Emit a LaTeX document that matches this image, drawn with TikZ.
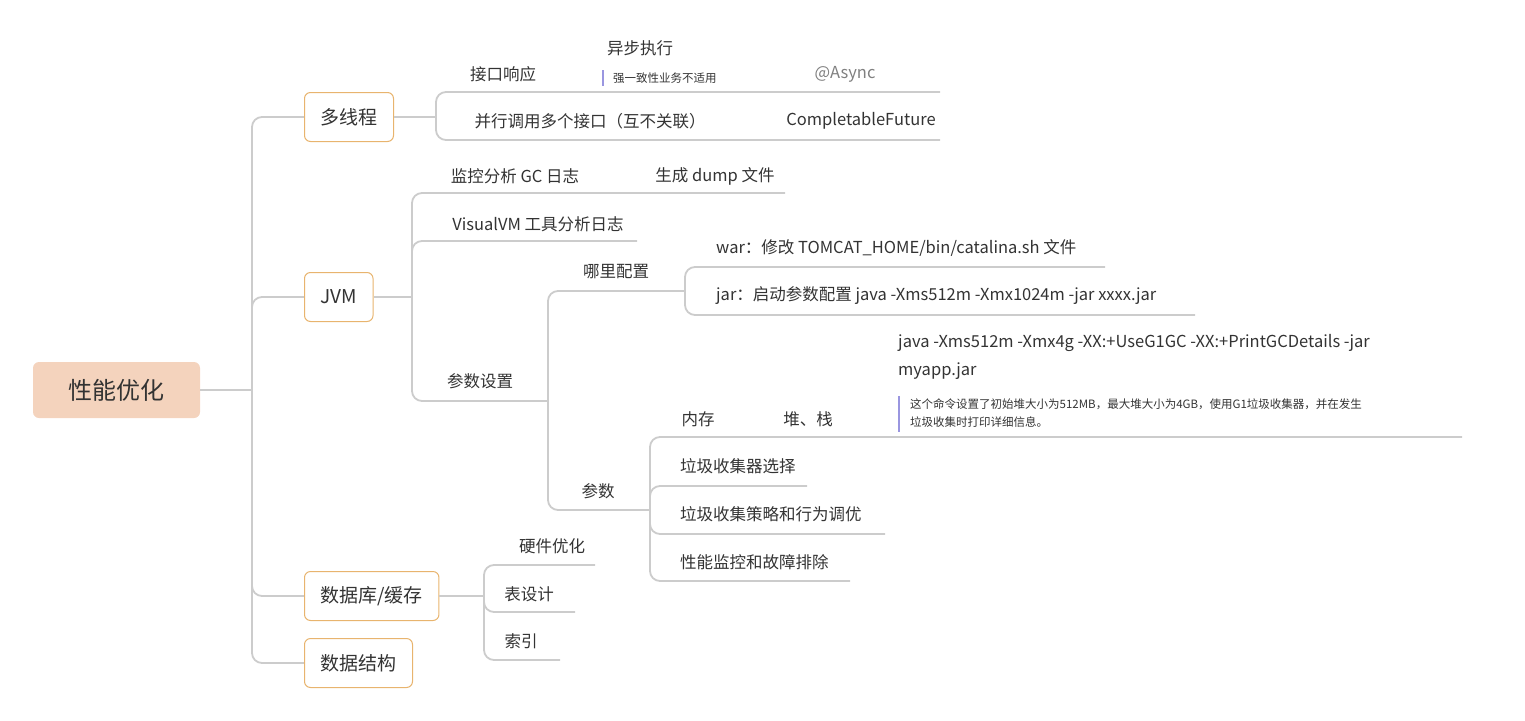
\documentclass[tikz,border=0pt]{standalone}
\usepackage{fontspec}
\setmainfont{Noto Sans CJK SC}
\definecolor{linkgray}{HTML}{CCCCCC}
\definecolor{txtgray}{HTML}{333333}
\definecolor{boxorange}{HTML}{E8B46E}
\definecolor{rootfill}{HTML}{F4D3BD}
\definecolor{notebar}{HTML}{9A96E0}
\tikzset{
  link/.style={draw=linkgray, line width=1.8pt, rounded corners=10pt},
  topic/.style={draw=boxorange, line width=1pt, fill=white, rounded corners=6pt, text=txtgray, font=\fontsize{19}{22}\selectfont, anchor=west, minimum height=49pt, inner xsep=16pt},
  leaf/.style={text=txtgray, font=\fontsize{16.5}{20}\selectfont, inner sep=0pt},
  note/.style={text=txtgray, font=\fontsize{11.5}{18}\selectfont, inner sep=0pt, anchor=west, align=left},
}
\begin{document}
\begin{tikzpicture}[x=1pt, y=-1pt]
  \useasboundingbox (0,0) rectangle (1525,720);
  % root and first level
  \node[fill=rootfill, rounded corners=6pt, minimum width=167pt, minimum height=56pt,
        text=txtgray, font=\fontsize{24}{28}\selectfont] (root) at (116.5,390) {性能优化};
  \coordinate (trunk) at (252,390);
  \draw[link] (root.east) -- (trunk);
  \foreach \y/\nm in {117/mt, 297/jvm, 596/db, 663/ds}
    \draw[link] (trunk) |- (304,\y);
  \node[topic] (mt) at (304,117) {多线程};
  \node[topic] (jvm) at (304,297) {JVM};
  \node[topic] (db) at (304,596) {数据库/缓存};
  \node[topic] (ds) at (304,663) {数据结构};

  % 多线程
  \coordinate (mtj) at (436,117);
  \draw[link] (mt.east) -- (mtj);
  \draw[link] (mtj) |- (940,92);
  \draw[link] (mtj) |- (940,140);
  \node[leaf] (resp) at (503,74) {接口响应};
  \node[leaf] (async) at (640,48) {异步执行};
  \draw[notebar, line width=2pt] (603,70) -- (603,86);
  \node[note] (asyncnote) at (613,78) {强一致性业务不适用};
  \node[leaf, text=gray] (anno) at (845,74) {@Async};
  \node[leaf] (par) at (590,121) {并行调用多个接口（互不关联）};
  \node[leaf] (cf) at (861,121) {CompletableFuture};

  % JVM
  \coordinate (jvmj) at (412,297);
  \draw[link] (jvm.east) -- (jvmj);
  \draw[link] (jvmj) |- (785,193);
  \draw[link] (jvmj) |- (637,241);
  \draw[link] (jvmj) |- (548,401);
  \node[leaf] (gclog) at (515,176) {监控分析 GC 日志};
  \node[leaf] (dump) at (715,176) {生成 dump 文件};
  \node[leaf] (vvm) at (538,224) {VisualVM 工具分析日志};
  \node[leaf] (args) at (480,381) {参数设置};

  \coordinate (argsj) at (548,401);
  \draw[link] (argsj) |- (685,291);
  \draw[link] (argsj) |- (622,510);
  \node[leaf] (where) at (616,272) {哪里配置};
  \node[leaf] (params) at (598,491) {参数};

  \coordinate (wherej) at (685,291);
  \draw[link] (wherej) |- (1105,267);
  \draw[link] (wherej) |- (1195,315);
  \node[leaf, anchor=west] (war) at (716,248) {war：修改 TOMCAT\_HOME/bin/catalina.sh 文件};
  \node[leaf, anchor=west] (jar) at (716,296) {jar：启动参数配置 java -Xms512m -Xmx1024m -jar xxxx.jar};

  \coordinate (paramsj) at (622,510);
  \coordinate (pj) at (650,510);
  \draw[link] (paramsj) -- (pj);
  \draw[link] (pj) |- (1462,437);
  \draw[link] (pj) |- (807,486);
  \draw[link] (pj) |- (885,534);
  \draw[link] (pj) |- (850,581);
  \node[leaf] (mem) at (698,419) {内存};
  \node[leaf] (heap) at (808,419) {堆、栈};
  \node[leaf, anchor=west] (cmd1) at (898,343) {java -Xms512m -Xmx4g -XX:+UseG1GC -XX:+PrintGCDetails -jar};
  \node[leaf, anchor=west] (cmd2) at (898,371) {myapp.jar};
  \draw[notebar, line width=2pt] (899,396) -- (899,432);
  \node[note] (cmdnote) at (910,413) {这个命令设置了初始堆大小为512MB，最大堆大小为4GB，使用G1垃圾收集器，并在发生\\垃圾收集时打印详细信息。};
  \node[leaf, anchor=west] (gcsel) at (680,466) {垃圾收集器选择};
  \node[leaf, anchor=west] (gcpol) at (680,514) {垃圾收集策略和行为调优};
  \node[leaf, anchor=west] (mon) at (680,562) {性能监控和故障排除};

  % 数据库/缓存
  \coordinate (dbj) at (484,596);
  \draw[link] (db.east) -- (dbj);
  \draw[link] (dbj) |- (595,565);
  \draw[link] (dbj) |- (575,612);
  \draw[link] (dbj) |- (560,660);
  \node[leaf] (hw) at (552,546) {硬件优化};
  \node[leaf] (tbl) at (529,594) {表设计};
  \node[leaf] (idx) at (521,641) {索引};
\end{tikzpicture}
\end{document}
